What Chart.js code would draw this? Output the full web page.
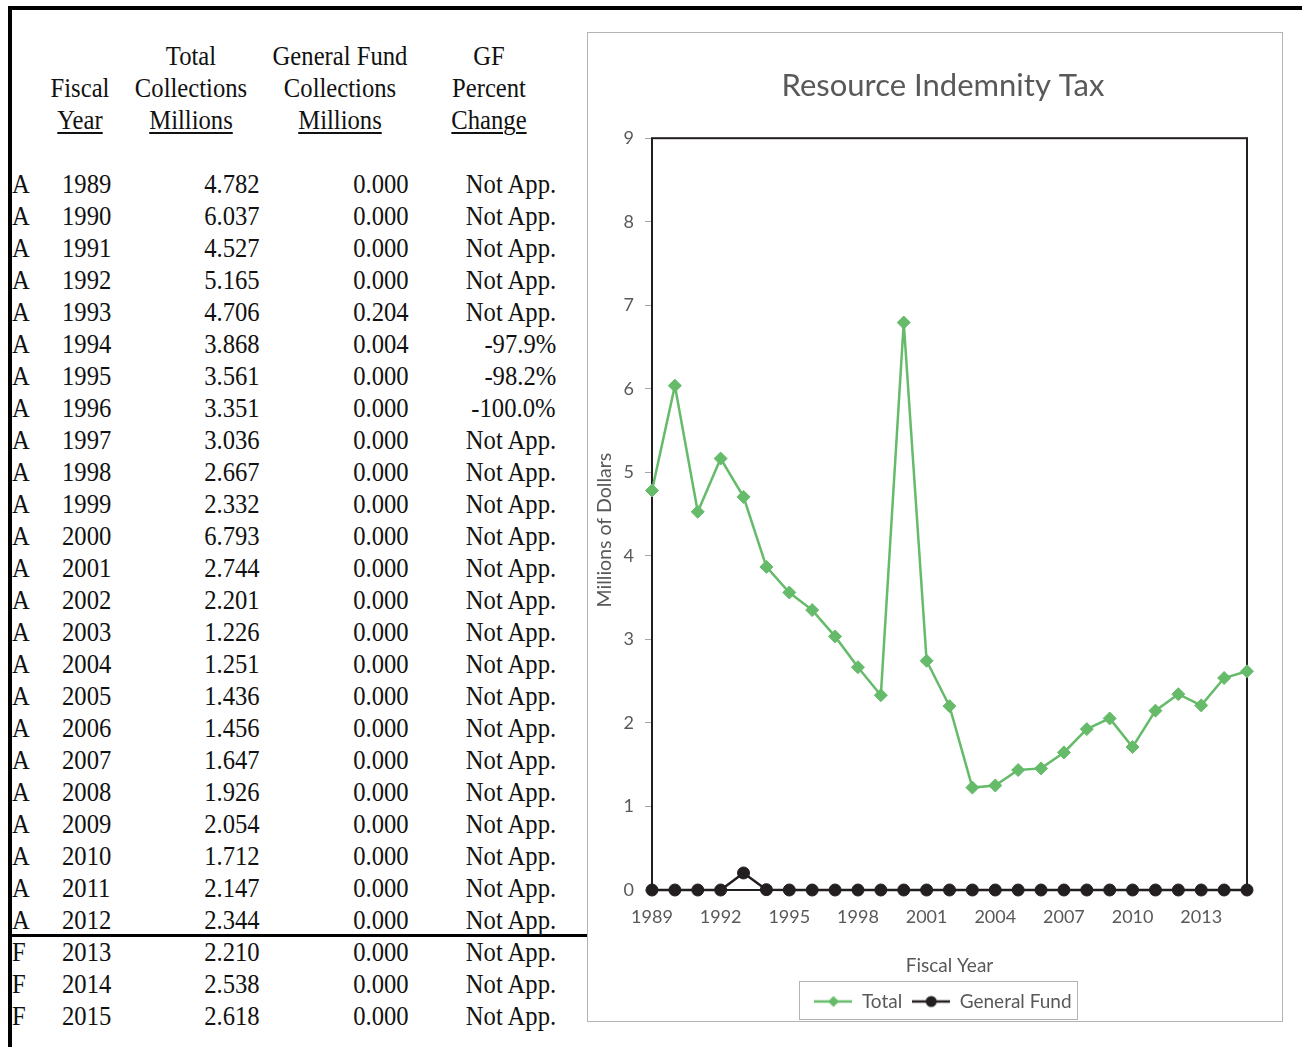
<!DOCTYPE html>
<html>
<head>
<meta charset="utf-8">
<title>Resource Indemnity Tax</title>
<script src="https://cdn.jsdelivr.net/npm/chart.js@4.4.1/dist/chart.umd.min.js"></script>
<style>
    body { margin: 0; background: #fff; width: 1302px; height: 1047px; position: relative; overflow: hidden; }
    .rule { position: absolute; background: #000; }
    #table {
        position: absolute; left: 0; top: 0; width: 600px; height: 1047px;
        font-family: "Liberation Serif", "Times New Roman", serif;
        font-size: 26.5px; line-height: 32px; color: #111;
    }
    #table div { position: absolute; white-space: nowrap; height: 32px; }
    #table .l { transform-origin: left center; transform: scaleX(.93); }
    #table .r { transform-origin: right center; transform: scaleX(.93); text-align: right; }
    #table .c { transform-origin: center center; transform: scaleX(.93); text-align: center; width: 200px; }
    #table .u { text-decoration: underline; text-underline-offset: 3px; text-decoration-thickness: 2px; }
    #chartBox {
        position: absolute; left: 587px; top: 32px; width: 694px; height: 988px;
        border: 1px solid #b3b3b3; background: #fff;
    }
    /* canvas is a bit wider than the frame so the title sits over the plot */
    #chartWrap { position: absolute; left: 588px; top: 33px; width: 710px; height: 988px; }
</style>
</head>
<body>
<div class="rule" style="left:8px; top:6px; width:1294px; height:4px;"></div>
<div class="rule" style="left:8px; top:6px; width:4px; height:1041px;"></div>
<div class="rule" style="left:11px; top:934px; width:576px; height:3px;"></div>
<div id="table"></div>
<div id="chartBox"></div>
<div id="chartWrap"><canvas id="ritChart"></canvas></div>

<script>
// Resource Indemnity Tax collections, millions of dollars
const fiscalYears = [1989, 1990, 1991, 1992, 1993, 1994, 1995, 1996, 1997, 1998, 1999, 2000, 2001,
    2002, 2003, 2004, 2005, 2006, 2007, 2008, 2009, 2010, 2011, 2012, 2013, 2014, 2015];
// A = actual, F = forecast
const yearStatus = ['A', 'A', 'A', 'A', 'A', 'A', 'A', 'A', 'A', 'A', 'A', 'A', 'A',
    'A', 'A', 'A', 'A', 'A', 'A', 'A', 'A', 'A', 'A', 'A', 'F', 'F', 'F'];
const totalCollections = [4.782, 6.037, 4.527, 5.165, 4.706, 3.868, 3.561, 3.351, 3.036, 2.667, 2.332, 6.793, 2.744,
    2.201, 1.226, 1.251, 1.436, 1.456, 1.647, 1.926, 2.054, 1.712, 2.147, 2.344, 2.210, 2.538, 2.618];
const generalFund = [0.000, 0.000, 0.000, 0.000, 0.204, 0.004, 0.000, 0.000, 0.000, 0.000, 0.000, 0.000, 0.000,
    0.000, 0.000, 0.000, 0.000, 0.000, 0.000, 0.000, 0.000, 0.000, 0.000, 0.000, 0.000, 0.000, 0.000];
// null means "Not App."
const gfPercentChange = [null, null, null, null, null, -97.9, -98.2, -100.0, null, null, null, null, null,
    null, null, null, null, null, null, null, null, null, null, null, null, null, null];

const xTickLabels = ['1989', '1992', '1995', '1998', '2001', '2004', '2007', '2010', '2013'];
const yMin = 0;
const yMax = 9;
const yStep = 1;

const GREEN = '#66bb6a';
const DARK = '#231f20';
const TEXT_GREY = '#595959';

document.addEventListener('DOMContentLoaded', () => {
    buildTable();
    buildChart();
});

function addCell(parent, text, cls, pos) {
    const el = document.createElement('div');
    el.className = cls;
    el.textContent = text;
    Object.keys(pos).forEach(k => { el.style[k] = pos[k] + 'px'; });
    parent.appendChild(el);
    return el;
}

function buildTable() {
    const wrap = document.getElementById('table');
    const width = 600;

    // column headers, three lines each, last line underlined
    const headers = [
        { cx: 80, lines: ['', 'Fiscal', 'Year'] },
        { cx: 191, lines: ['Total', 'Collections', 'Millions'] },
        { cx: 340, lines: ['General Fund', 'Collections', 'Millions'] },
        { cx: 489, lines: ['GF', 'Percent', 'Change'] }
    ];
    headers.forEach(h => {
        h.lines.forEach((line, i) => {
            if (!line) return;
            const cell = addCell(wrap, '', 'c', { left: h.cx - 100, top: 40 + i * 32 });
            if (i === 2) {
                const span = document.createElement('span');
                span.className = 'u';
                span.textContent = line;
                cell.appendChild(span);
            } else {
                cell.textContent = line;
            }
        });
    });

    fiscalYears.forEach((year, i) => {
        const top = 168 + i * 32;
        const pct = gfPercentChange[i];
        addCell(wrap, yearStatus[i], 'l', { left: 12, top: top });
        addCell(wrap, String(year), 'l', { left: 62, top: top });
        addCell(wrap, totalCollections[i].toFixed(3), 'r', { right: width - 260, top: top });
        addCell(wrap, generalFund[i].toFixed(3), 'r', { right: width - 409, top: top });
        addCell(wrap, pct === null ? 'Not App.' : pct.toFixed(1) + '%', 'r', { right: width - 556, top: top });
    });
}

// little line-with-marker swatches for the legend
function legendIcon(color, shape) {
    const c = document.createElement('canvas');
    c.width = 38;
    c.height = 16;
    const g = c.getContext('2d');
    g.strokeStyle = color;
    g.fillStyle = color;
    g.lineWidth = 2.5;
    g.beginPath();
    g.moveTo(0, 8);
    g.lineTo(38, 8);
    g.stroke();
    g.beginPath();
    if (shape === 'diamond') {
        g.moveTo(19, 2.5);
        g.lineTo(24.5, 8);
        g.lineTo(19, 13.5);
        g.lineTo(13.5, 8);
        g.closePath();
    } else {
        g.arc(19, 8, 5.5, 0, Math.PI * 2);
    }
    g.fill();
    return c;
}

// black frame round the plot area
const plotFrame = {
    id: 'plotFrame',
    beforeDatasetsDraw(chart) {
        const { ctx, chartArea: a } = chart;
        ctx.save();
        ctx.strokeStyle = DARK;
        ctx.lineWidth = 2;
        ctx.strokeRect(a.left, a.top, a.right - a.left, a.bottom - a.top);
        ctx.restore();
    }
};

// rotated value-axis caption, set a little below the middle of the plot
const yCaption = {
    id: 'yCaption',
    afterDraw(chart, args, opts) {
        const { ctx, chartArea: a } = chart;
        ctx.save();
        ctx.translate(opts.x, (a.top + a.bottom) / 2 + opts.shift);
        ctx.rotate(-Math.PI / 2);
        ctx.fillStyle = TEXT_GREY;
        ctx.font = '19.5px Lato, "Open Sans", sans-serif';
        ctx.textAlign = 'center';
        ctx.textBaseline = 'middle';
        ctx.fillText(opts.text, 0, 0);
        ctx.restore();
    }
};

// thin grey box round the legend items
const legendFrame = {
    id: 'legendFrame',
    afterDraw(chart) {
        const boxes = chart.legend && chart.legend.legendHitBoxes;
        if (!boxes || !boxes.length) return;
        const first = boxes[0];
        const last = boxes[boxes.length - 1];
        const x0 = Math.round(first.left - 15) + 0.5;
        const x1 = Math.round(last.left + last.width + 5) + 0.5;
        const cy = first.top + first.height / 2;
        const { ctx } = chart;
        ctx.save();
        ctx.strokeStyle = '#b3b3b3';
        ctx.lineWidth = 1;
        ctx.strokeRect(x0, Math.round(cy - 21) + 0.5, x1 - x0, 38);
        ctx.restore();
    }
};

function buildChart() {
    const ctx = document.getElementById('ritChart');
    if (!ctx) return;

    Chart.defaults.font.family = 'Lato, "Open Sans", sans-serif';
    Chart.defaults.color = TEXT_GREY;

    const icons = [legendIcon(GREEN, 'diamond'), legendIcon(DARK, 'circle')];

    new Chart(ctx, {
        type: 'line',
        data: {
            labels: fiscalYears.map(String),
            datasets: [{
                label: 'Total',
                data: totalCollections,
                borderColor: GREEN,
                backgroundColor: GREEN,
                borderWidth: 2.5,
                pointStyle: 'rectRot',
                pointRadius: 6.5,
                pointBorderWidth: 1,
                tension: 0,
                clip: false
            }, {
                label: 'General Fund',
                data: generalFund,
                borderColor: DARK,
                backgroundColor: DARK,
                borderWidth: 2.5,
                pointStyle: 'circle',
                pointRadius: 6,
                pointBorderWidth: 1,
                tension: 0,
                clip: false
            }]
        },
        options: {
            responsive: true,
            maintainAspectRatio: false,
            animation: false,
            layout: { padding: 0 },
            plugins: {
                title: {
                    display: true,
                    text: 'Resource Indemnity Tax',
                    color: TEXT_GREY,
                    font: { size: 31, weight: 'normal' },
                    padding: { top: 34, bottom: 34 }
                },
                legend: {
                    position: 'bottom',
                    labels: {
                        usePointStyle: true,
                        pointStyleWidth: 38,
                        padding: 10,
                        color: TEXT_GREY,
                        font: { size: 19 },
                        generateLabels(chart) {
                            const items = Chart.defaults.plugins.legend.labels.generateLabels(chart);
                            items.forEach((item, i) => { item.pointStyle = icons[i]; });
                            return items;
                        }
                    }
                },
                yCaption: { text: 'Millions of Dollars', x: 17, shift: 16 },
                tooltip: { enabled: false }
            },
            scales: {
                x: {
                    grid: { display: false, drawTicks: false },
                    border: { display: false },
                    ticks: {
                        autoSkip: false,
                        maxRotation: 0,
                        padding: 16,
                        color: TEXT_GREY,
                        font: { size: 18 },
                        callback: function (value) {
                            const lbl = this.getLabelForValue(value);
                            return xTickLabels.includes(lbl) ? lbl : '';
                        }
                    },
                    title: {
                        display: true,
                        text: 'Fiscal Year',
                        color: TEXT_GREY,
                        font: { size: 19 },
                        padding: { top: 0, bottom: 5 }
                    },
                    afterFit(scale) { scale.height = 92; }
                },
                y: {
                    min: yMin,
                    max: yMax,
                    ticks: { stepSize: yStep, padding: 11, color: TEXT_GREY, font: { size: 18 } },
                    grid: { drawOnChartArea: false, drawTicks: true, tickLength: 7, tickColor: '#a6a6a6' },
                    border: { display: false },
                    afterFit(scale) { scale.width = 64; }
                },
                // empty right-hand margin axis, keeps the plot clear of the frame
                yMargin: {
                    type: 'linear',
                    position: 'right',
                    grid: { display: false },
                    border: { display: false },
                    ticks: { display: false },
                    afterFit(scale) { scale.width = 51; }
                }
            }
        },
        plugins: [plotFrame, yCaption, legendFrame]
    });
}
</script>
</body>
</html>
